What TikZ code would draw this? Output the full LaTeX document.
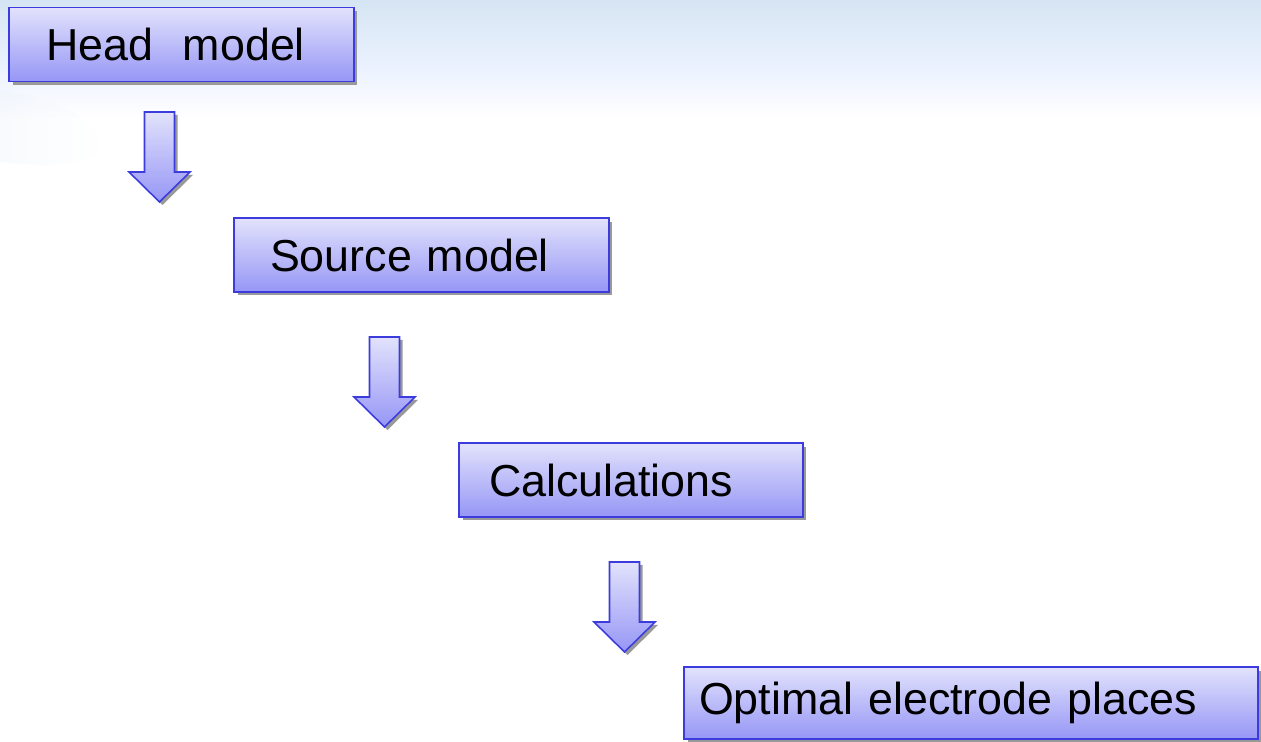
\documentclass[tikz,border=0pt]{standalone}
\usepackage{fontspec}
\setmainfont{Liberation Sans}
\usetikzlibrary{shadows}

\definecolor{boxtop}{RGB}{226,226,252}
\definecolor{boxbot}{RGB}{150,150,246}
\definecolor{boxline}{RGB}{60,60,222}
\definecolor{skytop}{RGB}{214,229,243}
\definecolor{skymid}{RGB}{236,242,255}

\tikzset{
  stagebox/.style={rectangle, draw=boxline, line width=0.9pt,
    top color=boxtop, bottom color=boxbot, align=left,
    inner ysep=0pt, minimum height=1.48cm,
    font=\fontsize{25.5}{30}\selectfont,
    drop shadow={shadow xshift=0.07cm, shadow yshift=-0.07cm,
      fill=black!40, opacity=1}},
  flowarrow/.style={draw=boxline, line width=0.9pt, line join=miter,
    top color=boxtop, bottom color=boxbot,
    drop shadow={shadow xshift=0.06cm, shadow yshift=-0.06cm,
      fill=black!40, opacity=1}}
}

\begin{document}
\begin{tikzpicture}[x=0.02cm,y=-0.02cm]
\useasboundingbox (0,0) rectangle (1261,742);

% sky band along the top
\shade[top color=skytop, bottom color=skymid] (0,0) rectangle (1261,70);
\shade[top color=skymid, bottom color=white] (0,70) rectangle (1261,118);
% faint swoosh on the left
\shade[left color=skytop!50, right color=white, opacity=0.35]
  (0,90) .. controls (50,95) and (90,115) .. (110,150)
  .. controls (80,168) and (30,166) .. (0,162) -- cycle;

% the four stages
\node[stagebox, text width=5.42cm, inner xsep=0.74cm] (head) at (181.5,44.5) {Head~~model};
\node[stagebox, text width=6.06cm, inner xsep=0.72cm] (source) at (421.5,255) {Source model};
\node[stagebox, text width=5.68cm, inner xsep=0.6cm] (calc) at (631,480) {Calculations};
\node[stagebox, text width=10.88cm, inner xsep=0.3cm, minimum height=1.44cm] (places) at (971,703) {Optimal electrode places};

% block arrows between the stages
\foreach \ax/\ay in {159.5/112, 384.5/337, 624.5/562}
  \path[flowarrow] (\ax-15,\ay) -- ++(30,0) -- ++(0,60) -- ++(15.5,0)
    -- (\ax,\ay+90) -- (\ax-30.5,\ay+60) -- ++(15.5,0) -- cycle;
\end{tikzpicture}
\end{document}
